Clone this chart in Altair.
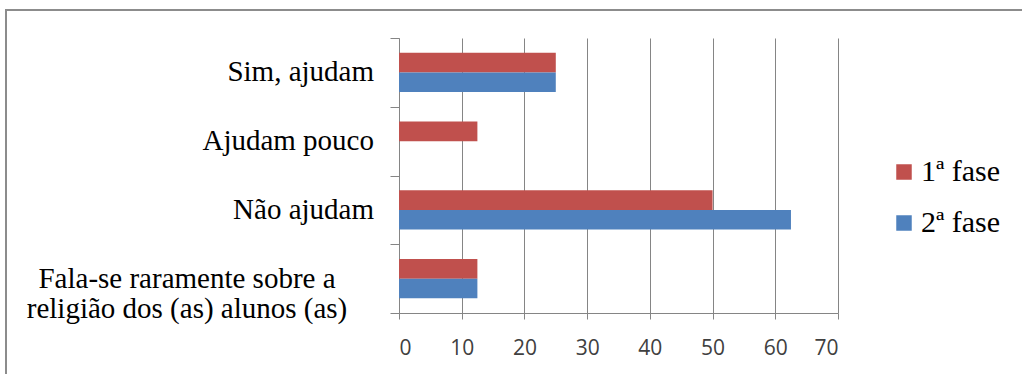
import altair as alt
import pandas as pd

# Survey answers (percent of respondents) for the two phases
categories = [
    "Sim, ajudam",
    "Ajudam pouco",
    "Não ajudam",
    "Fala-se raramente sobre a\nreligião dos (as) alunos (as)",
]
phases = ["1ª fase", "2ª fase"]
fase1 = [25, 12.5, 50, 12.5]
fase2 = [25, 0, 62.5, 12.5]
x_ticks = [0, 10, 20, 30, 40, 50, 60, 70]
colors = ["#C0504D", "#4F81BD"]

rows = []
for cat, v1, v2 in zip(categories, fase1, fase2):
    rows.append({"categoria": cat, "fase": phases[0], "valor": v1})
    rows.append({"categoria": cat, "fase": phases[1], "valor": v2})
bars_df = pd.DataFrame(rows)
labels_df = pd.DataFrame({"categoria": categories})

serif = "Liberation Serif"
grid_gray = "#858585"
y_enc = alt.Y(
    "categoria:N",
    sort=categories,
    scale=alt.Scale(paddingInner=0, paddingOuter=0),
    axis=alt.Axis(
        title=None,
        labels=False,
        ticks=True,
        tickBand="extent",
        tickSize=9,
        tickColor=grid_gray,
        domain=True,
        domainColor=grid_gray,
        grid=False,
    ),
)

bars = alt.Chart(bars_df).mark_bar().encode(
    x=alt.X(
        "valor:Q",
        scale=alt.Scale(domain=[0, 70], nice=False),
        axis=alt.Axis(
            title=None,
            values=x_ticks,
            grid=True,
            gridColor=grid_gray,
            gridOpacity=1,
            domainColor=grid_gray,
            tickColor=grid_gray,
            tickSize=6,
            labelFont="Open Sans",
            labelFontSize=21,
            labelColor="#404040",
            labelPadding=18,
        ),
    ),
    y=y_enc,
    yOffset=alt.YOffset(
        "fase:N", sort=phases, scale=alt.Scale(paddingInner=0, paddingOuter=0.76)
    ),
    color=alt.Color(
        "fase:N",
        sort=phases,
        scale=alt.Scale(domain=phases, range=colors),
        legend=alt.Legend(
            title=None,
            orient="none",
            legendX=490,
            legendY=119,
            padding=0,
            symbolType="square",
            symbolSize=240,
            symbolStrokeWidth=0,
            symbolOpacity=1,
            labelFont=serif,
            labelFontSize=30,
            labelColor="black",
            labelOffset=2,
            rowPadding=21,
        ),
    ),
)

text_style = dict(font=serif, fontSize=29, color="black", baseline="middle")

single_labels = (
    alt.Chart(labels_df)
    .transform_filter(alt.FieldOneOfPredicate(field="categoria", oneOf=categories[:3]))
    .mark_text(align="right", **text_style)
    .encode(y=alt.Y("categoria:N", sort=categories), x=alt.value(-25), text="categoria:N")
)

wrapped_label = (
    alt.Chart(labels_df)
    .transform_filter(alt.FieldEqualPredicate(field="categoria", equal=categories[3]))
    .mark_text(align="center", lineBreak="\n", lineHeight=30, **text_style)
    .encode(y=alt.Y("categoria:N", sort=categories), x=alt.value(-212), text="categoria:N")
)

# Outer frame of the figure (top and left edges)
frame_df = pd.DataFrame({"k": [0]})
frame_top = alt.Chart(frame_df).mark_rule(color="#8c8c8c", strokeWidth=2).encode(
    x=alt.value(-394), x2=alt.value(640), y=alt.value(-28)
)
frame_left = alt.Chart(frame_df).mark_rule(color="#8c8c8c", strokeWidth=2).encode(
    x=alt.value(-393), y=alt.value(-29), y2=alt.value(340)
)

chart = (
    alt.layer(bars, single_labels, wrapped_label, frame_top, frame_left)
    .properties(
        width=439,
        height=275,
        autosize=alt.AutoSizeParams(type="none"),
        padding={"left": 399, "top": 38, "right": 184, "bottom": 61},
        background="white",
    )
    .configure_view(stroke=None)
)

chart.save("out.html", embed_options={"renderer": "svg", "actions": False})
